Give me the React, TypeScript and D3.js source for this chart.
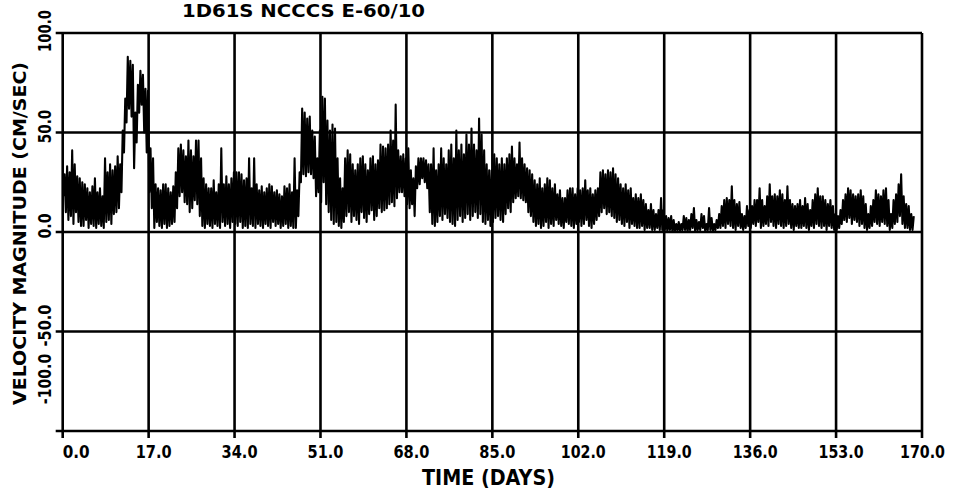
import React from 'react';
import * as d3 from 'd3';

const chartTitle = '1D61S NCCCS E-60/10';
const xAxisTitle = 'TIME (DAYS)';
const yAxisTitle = 'VELOCITY MAGNITUDE (CM/SEC)';

const xTicks = [0, 17, 34, 51, 68, 85, 102, 119, 136, 153, 170];
const yTicks = [100, 50, 0, -50, -100];

// Current speed (cm/s), four readings per day (6-hour spacing); one row per day.
const samplesPerDay = 4;
const speedByDay: number[][] = [
  [18, 29, 10, 33], [6, 30, 8, 41], [4, 34, 10, 28], [5, 27, 3, 25], [3, 24, 6, 22],
  [2, 20, 4, 23], [3, 27, 2, 20], [4, 22, 3, 18], [2, 37, 5, 30], [6, 34, 4, 31],
  [9, 33, 10, 38], [12, 34, 20, 51], [40, 67, 55, 88], [62, 86, 58, 84], [32, 60, 45, 74],
  [60, 81, 64, 79], [50, 72, 40, 71], [20, 42, 12, 37], [2, 24, 5, 22], [3, 21, 2, 24],
  [4, 24, 2, 22], [3, 20, 4, 23], [5, 30, 12, 42], [18, 44, 20, 41], [15, 38, 14, 46],
  [10, 41, 12, 38], [16, 46, 14, 46], [8, 37, 3, 27], [2, 24, 4, 22], [3, 22, 2, 26],
  [4, 20, 3, 24], [2, 42, 5, 24], [3, 28, 4, 24], [2, 27, 5, 30], [4, 30, 3, 30],
  [5, 29, 2, 26], [3, 27, 2, 37], [4, 22, 3, 37], [2, 24, 4, 21], [3, 23, 2, 20],
  [4, 22, 3, 24], [2, 23, 5, 20], [3, 21, 4, 19], [2, 18, 3, 23], [4, 22, 2, 24],
  [3, 20, 2, 37], [2, 21, 8, 30], [25, 62, 29, 60], [28, 57, 30, 58], [29, 51, 27, 48],
  [18, 37, 20, 51], [15, 68, 25, 67], [14, 56, 10, 51], [6, 54, 4, 52], [5, 37, 3, 27],
  [2, 22, 5, 37], [8, 41, 10, 39], [5, 34, 8, 31], [6, 34, 4, 37], [10, 38, 7, 34],
  [5, 31, 9, 37], [11, 38, 6, 34], [8, 36, 12, 44], [10, 43, 11, 42], [12, 44, 14, 51],
  [15, 46, 13, 64], [17, 41, 20, 38], [20, 39, 18, 37], [14, 42, 12, 31], [14, 27, 8, 33],
  [22, 37, 24, 37], [27, 37, 25, 36], [22, 34, 10, 34], [4, 42, 3, 31], [5, 34, 8, 42],
  [6, 37, 9, 34], [7, 41, 5, 44], [4, 37, 3, 51], [6, 41, 8, 44], [5, 39, 7, 49],
  [9, 44, 6, 52], [8, 44, 10, 41], [7, 57, 9, 49], [5, 41, 4, 34], [6, 31, 3, 31],
  [5, 39, 7, 37], [8, 34, 6, 37], [5, 34, 9, 37], [12, 39, 10, 43], [15, 37, 17, 34],
  [18, 45, 17, 37], [16, 34, 15, 32], [10, 31, 8, 29], [5, 26, 3, 24], [4, 27, 2, 22],
  [3, 24, 5, 27], [2, 26, 4, 22], [3, 24, 6, 19], [4, 21, 3, 17], [2, 17, 5, 21],
  [4, 22, 3, 22], [2, 19, 4, 22], [5, 21, 3, 22], [4, 26, 6, 21], [3, 22, 2, 19],
  [4, 21, 6, 22], [8, 30, 10, 31], [12, 29, 9, 31], [10, 30, 8, 32], [7, 29, 5, 27],
  [6, 24, 4, 22], [3, 24, 5, 21], [2, 22, 4, 17], [3, 19, 2, 17], [2, 19, 3, 16],
  [1, 14, 2, 11], [2, 14, 1, 11], [1, 9, 2, 11], [1, 17, 1, 11], [1, 8, 0, 7],
  [1, 8, 0, 6], [0, 4, 1, 5], [0, 4, 1, 8], [1, 7, 0, 6], [1, 9, 2, 12],
  [0, 6, 1, 5], [1, 9, 2, 8], [0, 4, 1, 12], [1, 7, 0, 4], [1, 6, 2, 9],
  [2, 13, 3, 16], [2, 17, 4, 16], [3, 23, 2, 16], [1, 14, 3, 15], [2, 9, 1, 8],
  [2, 13, 3, 11], [2, 13, 4, 16], [3, 16, 5, 22], [2, 16, 3, 13], [4, 18, 3, 24],
  [5, 18, 3, 19], [2, 18, 4, 21], [3, 19, 2, 16], [3, 23, 4, 16], [2, 14, 1, 13],
  [3, 14, 2, 16], [2, 13, 3, 17], [2, 14, 1, 11], [3, 16, 2, 19], [4, 22, 3, 18],
  [2, 18, 3, 16], [1, 14, 3, 16], [2, 13, 1, 9], [1, 8, 2, 11], [4, 16, 6, 19],
  [5, 22, 7, 21], [4, 19, 6, 18], [5, 19, 3, 21], [4, 18, 2, 14], [1, 9, 2, 13],
  [3, 16, 5, 21], [4, 19, 3, 18], [5, 21, 4, 22], [3, 16, 1, 9], [2, 16, 4, 19],
  [5, 24, 8, 29], [4, 18, 2, 14], [2, 13, 1, 9], [1, 8]
];

type Sample = { t: number; v: number };
const samples: Sample[] = speedByDay.flatMap((row, day) =>
  row.map((v, k) => ({ t: day + (k + 0.5) / samplesPerDay, v }))
);

const W = 955;
const H = 493;
const plot = { left: 62.7, right: 922, top: 33, bottom: 431 };
const FONT = '"DejaVu Sans", sans-serif';

export default function App() {
  const x = d3.scaleLinear().domain([0, 170]).range([plot.left, plot.right]);
  const y = d3.scaleLinear().domain([-100, 100]).range([plot.bottom, plot.top]);
  const line = d3
    .line<Sample>()
    .x((d) => x(d.t))
    .y((d) => y(d.v));

  const gridW = 2.6;
  const tickLen = 7;

  return (
    <svg
      width={W}
      height={H}
      viewBox={`0 0 ${W} ${H}`}
      style={{ position: 'absolute', left: 0, top: 0, background: '#fff' }}
    >
      <rect x={0} y={0} width={W} height={H} fill="#fff" />

      {/* speed trace */}
      <path d={line(samples) ?? ''} fill="none" stroke="#000" strokeWidth={2.1} strokeLinejoin="round" />

      {/* horizontal grid lines with outward ticks */}
      {yTicks.map((v) => (
        <line
          key={`h${v}`}
          x1={plot.left - tickLen}
          x2={plot.right}
          y1={y(v)}
          y2={y(v)}
          stroke="#000"
          strokeWidth={gridW}
        />
      ))}
      {/* vertical grid lines with outward ticks */}
      {xTicks.map((v) => (
        <line
          key={`v${v}`}
          x1={x(v)}
          x2={x(v)}
          y1={plot.top}
          y2={plot.bottom + tickLen}
          stroke="#000"
          strokeWidth={gridW}
        />
      ))}

      {/* x tick labels */}
      {xTicks.map((v, i) => {
        const label = v.toFixed(1);
        const len = label.length * 9;
        const cx = i === 0 ? x(v) + len / 2 : Math.min(x(v) + 5, W - 10 - len / 2);
        return (
          <text
            key={`xl${v}`}
            x={cx}
            y={458}
            textAnchor="middle"
            fontFamily={FONT}
            fontWeight="bold"
            fontSize={18}
            textLength={len}
            lengthAdjust="spacingAndGlyphs"
            fill="#000"
          >
            {label}
          </text>
        );
      })}

      {/* y tick labels, rotated */}
      {yTicks.map((v, i) => {
        const label = v.toFixed(1);
        const len = label.length * 8.4;
        const cy = i === 0 ? y(v) - 2 : i === yTicks.length - 1 ? y(v) - 52 : y(v) - 6;
        return (
          <text
            key={`yl${v}`}
            transform={`translate(51,${cy}) rotate(-90)`}
            textAnchor="middle"
            fontFamily={FONT}
            fontWeight="bold"
            fontSize={17}
            textLength={len}
            lengthAdjust="spacingAndGlyphs"
            fill="#000"
          >
            {label}
          </text>
        );
      })}

      {/* titles */}
      <text
        x={303.5}
        y={17}
        textAnchor="middle"
        fontFamily={FONT}
        fontWeight="bold"
        fontSize={18}
        textLength={243}
        lengthAdjust="spacingAndGlyphs"
        fill="#000"
      >
        {chartTitle}
      </text>
      <text
        x={488.5}
        y={485}
        textAnchor="middle"
        fontFamily={FONT}
        fontWeight="bold"
        fontSize={22}
        textLength={133}
        lengthAdjust="spacingAndGlyphs"
        fill="#000"
      >
        {xAxisTitle}
      </text>
      <text
        transform={`translate(25.5,233.5) rotate(-90)`}
        textAnchor="middle"
        fontFamily={FONT}
        fontWeight="bold"
        fontSize={18}
        textLength={343}
        lengthAdjust="spacingAndGlyphs"
        fill="#000"
      >
        {yAxisTitle}
      </text>
    </svg>
  );
}
